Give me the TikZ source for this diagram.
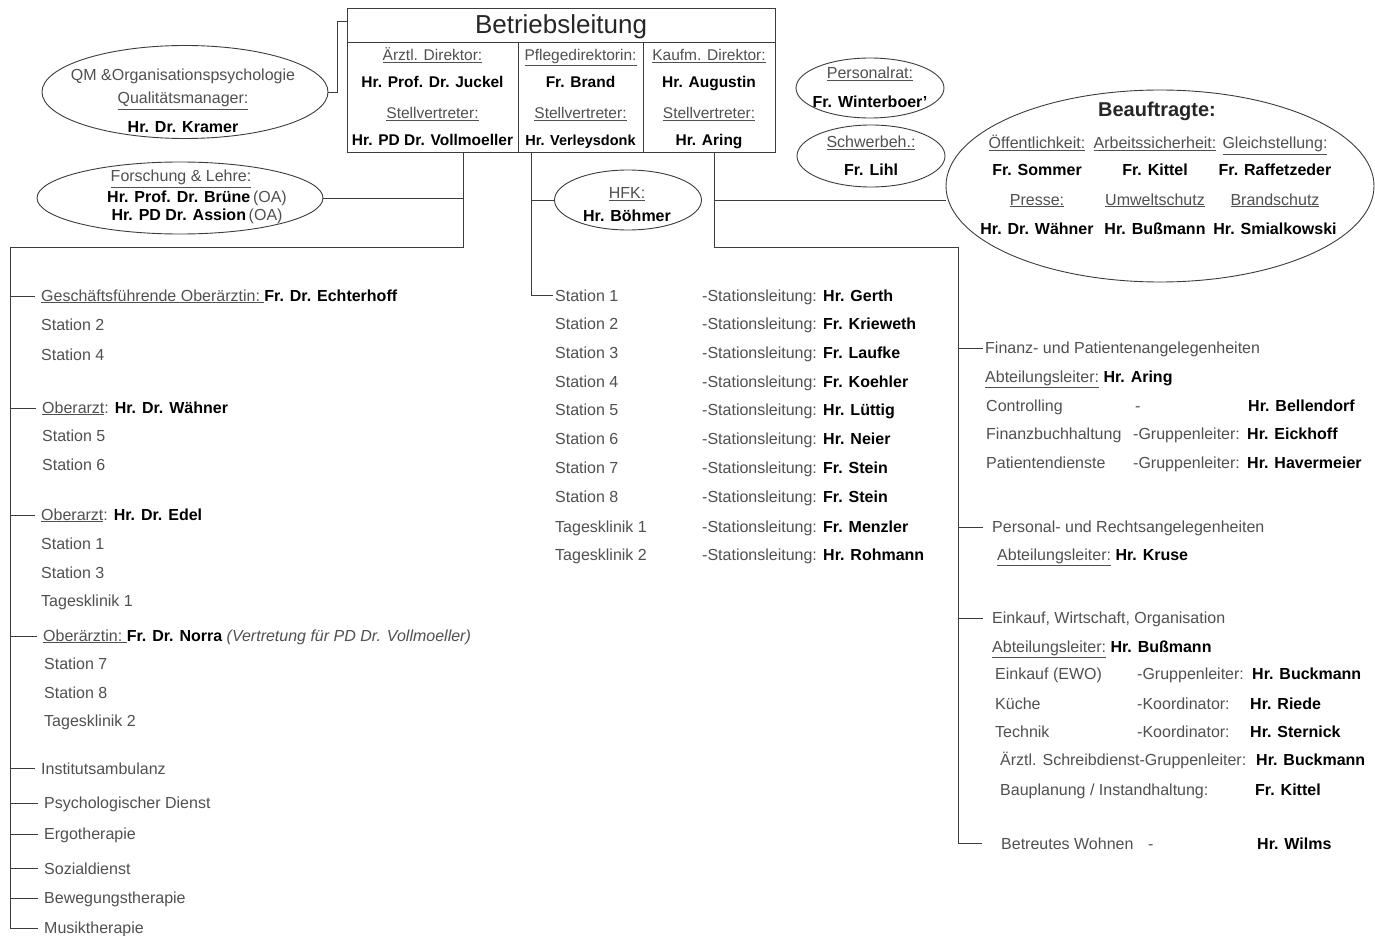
\documentclass[tikz,border=0pt]{standalone}
\usepackage{fontspec}
\setmainfont{Liberation Sans}
\usetikzlibrary{shapes.geometric}
\definecolor{txt}{RGB}{80,80,80}
\definecolor{lnc}{RGB}{60,60,60}
\newcommand{\nm}[1]{{\bfseries\color{black}#1}}
\newcommand{\lbl}[1]{\underline{#1}}
\begin{document}
\begin{tikzpicture}[x=1pt,y=-1pt,
  ln/.style={draw=lnc, line width=0.9pt},
  el/.style={ellipse, draw=lnc, line width=0.9pt, inner sep=0pt},
  tl/.style={anchor=base west, inner sep=0pt, text=txt, font=\fontsize{16}{19}\selectfont},
  tc/.style={anchor=base, inner sep=0pt, text=txt, font=\fontsize{16}{19}\selectfont},
  tb/.style={anchor=base, inner sep=0pt, text=txt, font=\fontsize{15.5}{18}\selectfont},
]
\fill[white] (0,0) rectangle (1375,936);
\useasboundingbox (0,0) rectangle (1375,936);

% ---------- Betriebsleitung box ----------
\node[draw=lnc, line width=0.9pt, minimum width=428pt, minimum height=144pt, inner sep=0pt] (bl) at (561,80) {};
\draw[ln] (347,42) -- (775,42);
\draw[ln] (518,42) -- (518,152);
\draw[ln] (643,42) -- (643,152);
\node[anchor=base, inner sep=0pt, text=black!85, font=\fontsize{26}{30}\selectfont] (title) at (561,34) {Betriebsleitung};
\node[tb] (d1a) at (432.5,61) {\lbl{Ärztl. Direktor:}};
\node[tb] (d1b) at (432.5,88) {\nm{Hr. Prof. Dr. Juckel}};
\node[tb] (d1c) at (432.5,119) {\lbl{Stellvertreter:}};
\node[tb] (d1d) at (432.5,146) {\nm{Hr. PD Dr. Vollmoeller}};
\node[tb] (d2a) at (580.5,61) {\lbl{Pflegedirektorin:}};
\node[tb] (d2b) at (580.5,88) {\nm{Fr. Brand}};
\node[tb] (d2c) at (580.5,119) {\lbl{Stellvertreter:}};
\node[tb, font=\fontsize{14.5}{17}\selectfont] (d2d) at (580.5,146) {\nm{Hr. Verleysdonk}};
\node[tb] (d3a) at (709,61) {\lbl{Kaufm. Direktor:}};
\node[tb] (d3b) at (709,88) {\nm{Hr. Augustin}};
\node[tb] (d3c) at (709,119) {\lbl{Stellvertreter:}};
\node[tb] (d3d) at (709,146) {\nm{Hr. Aring}};

% ---------- ellipses left ----------
\node[el, minimum width=286pt, minimum height=93pt] (qm) at (185,92) {};
\node[tc] (qm1) at (183,81) {QM \&Organisationspsychologie};
\node[tc] (qm2) at (183,104) {\lbl{Qualitätsmanager:}};
\node[tc] (qm3) at (183,133) {\nm{Hr. Dr. Kramer}};

\node[el, minimum width=286pt, minimum height=72pt] (fo) at (180,198) {};
\node[tc] (fo1) at (181,182) {\lbl{Forschung \& Lehre:}};
\node[tc] (fo2) at (197,202) {\nm{Hr. Prof. Dr. Brüne}\,(OA)};
\node[tc] (fo3) at (197,220) {\nm{Hr. PD Dr. Assion}\,(OA)};

% ---------- HFK ----------
\node[el, minimum width=147pt, minimum height=60pt] (hfk) at (628,200) {};
\node[tc] (hfk1) at (627,199) {\lbl{HFK:}};
\node[tc] (hfk2) at (627,221) {\nm{Hr. Böhmer}};

% ---------- Personalrat / Schwerbeh ----------
\node[el, minimum width=148pt, minimum height=60pt] (pr) at (870,88) {};
\node[tc] (pr1) at (870,79) {\lbl{Personalrat:}};
\node[tc] (pr2) at (870,108) {\nm{Fr. Winterboer'}};
\node[el, minimum width=148pt, minimum height=62pt] (sb) at (871,156) {};
\node[tc] (sb1) at (871,148) {\lbl{Schwerbeh.:}};
\node[tc] (sb2) at (871,176) {\nm{Fr. Lihl}};

% ---------- Beauftragte ----------
\node[el, minimum width=428pt, minimum height=192pt] (bea) at (1160,186) {};
\node[anchor=base, inner sep=0pt, font=\fontsize{20}{24}\selectfont\bfseries, text=black!85] (beat) at (1157,117) {Beauftragte:};
\node[tc] (b1a) at (1037,149) {\lbl{Öffentlichkeit:}};
\node[tc] (b2a) at (1155,149) {\lbl{Arbeitssicherheit:}};
\node[tc] (b3a) at (1275,149) {\lbl{Gleichstellung:}};
\node[tc] (b1b) at (1037,176) {\nm{Fr. Sommer}};
\node[tc] (b2b) at (1155,176) {\nm{Fr. Kittel}};
\node[tc] (b3b) at (1275,176) {\nm{Fr. Raffetzeder}};
\node[tc] (b1c) at (1037,205) {\lbl{Presse:}};
\node[tc] (b2c) at (1155,205) {\lbl{Umweltschutz}};
\node[tc] (b3c) at (1275,205) {\lbl{Brandschutz}};
\node[tc] (b1d) at (1037,234) {\nm{Hr. Dr. Wähner}};
\node[tc] (b2d) at (1155,234) {\nm{Hr. Bußmann}};
\node[tc] (b3d) at (1275,234) {\nm{Hr. Smialkowski}};

% ---------- left column ----------
\node[tl] (g1) at (41,301) {\lbl{Geschäftsführende Oberärztin:\ }\nm{Fr. Dr. Echterhoff}};
\node[tl] (g1a) at (41,330) {Station 2};
\node[tl] (g1b) at (41,360) {Station 4};
\node[tl] (g2) at (42,413) {\lbl{Oberarzt}: \nm{Hr. Dr. Wähner}};
\node[tl] (g2a) at (42,441) {Station 5};
\node[tl] (g2b) at (42,470) {Station 6};
\node[tl] (g3) at (41,520) {\lbl{Oberarzt}: \nm{Hr. Dr. Edel}};
\node[tl] (g3a) at (41,549) {Station 1};
\node[tl] (g3b) at (41,578) {Station 3};
\node[tl] (g3c) at (41,606) {Tagesklinik 1};
\node[tl] (g4) at (43,641) {\lbl{Oberärztin:\ }\nm{Fr. Dr. Norra} {\itshape (Vertretung für PD Dr. Vollmoeller)}};
\node[tl] (g4a) at (44,669) {Station 7};
\node[tl] (g4b) at (44,698) {Station 8};
\node[tl] (g4c) at (44,726) {Tagesklinik 2};
\node[tl] (g5) at (41,774) {Institutsambulanz};
\node[tl] (g6) at (44,808) {Psychologischer Dienst};
\node[tl] (g7) at (44,839) {Ergotherapie};
\node[tl] (g8) at (44,874) {Sozialdienst};
\node[tl] (g9) at (44,903) {Bewegungstherapie};
\node[tl] (g10) at (44,933) {Musiktherapie};

% ---------- middle column ----------
\foreach \i/\y/\s/\n in {1/301/Station 1/Hr. Gerth, 2/329/Station 2/Fr. Krieweth, 3/358/Station 3/Fr. Laufke,
  4/387/Station 4/Fr. Koehler, 5/415/Station 5/Hr. Lüttig, 6/444/Station 6/Hr. Neier,
  7/473/Station 7/Fr. Stein, 8/502/Station 8/Fr. Stein, 9/532/Tagesklinik 1/Fr. Menzler,
  10/560/Tagesklinik 2/Hr. Rohmann}{
  \node[tl] (s\i) at (555,\y) {\s};
  \node[tl] (sl\i) at (702,\y) {-Stationsleitung:};
  \node[tl] (sn\i) at (823,\y) {\nm{\n}};
}

% ---------- right column ----------
\node[tl] (f1) at (985,353) {Finanz- und Patientenangelegenheiten};
\node[tl] (f1a) at (985,382) {\lbl{Abteilungsleiter:} \nm{Hr. Aring}};
\node[tl] (f1b) at (986,411) {Controlling};
\node[tl] (f1b2) at (1135,411) {-};
\node[tl] (f1b3) at (1248,411) {\nm{Hr. Bellendorf}};
\node[tl] (f1c) at (986,439) {Finanzbuchhaltung};
\node[tl] (f1c2) at (1133,439) {-Gruppenleiter:};
\node[tl] (f1c3) at (1247,439) {\nm{Hr. Eickhoff}};
\node[tl] (f1d) at (986,468) {Patientendienste};
\node[tl] (f1d2) at (1133,468) {-Gruppenleiter:};
\node[tl] (f1d3) at (1247,468) {\nm{Hr. Havermeier}};

\node[tl] (f2) at (992,532) {Personal- und Rechtsangelegenheiten};
\node[tl] (f2a) at (997,560) {\lbl{Abteilungsleiter:} \nm{Hr. Kruse}};

\node[tl] (f3) at (992,623) {Einkauf, Wirtschaft, Organisation};
\node[tl] (f3a) at (992,652) {\lbl{Abteilungsleiter:} \nm{Hr. Bußmann}};
\node[tl] (f3b) at (995,679) {Einkauf (EWO)};
\node[tl] (f3b2) at (1137,679) {-Gruppenleiter:};
\node[tl] (f3b3) at (1252,679) {\nm{Hr. Buckmann}};
\node[tl] (f3c) at (995,709) {Küche};
\node[tl] (f3c2) at (1137,709) {-Koordinator:};
\node[tl] (f3c3) at (1250,709) {\nm{Hr. Riede}};
\node[tl] (f3d) at (995,737) {Technik};
\node[tl] (f3d2) at (1137,737) {-Koordinator:};
\node[tl] (f3d3) at (1250,737) {\nm{Hr. Sternick}};
\node[tl] (f3e) at (1000,765) {Ärztl. Schreibdienst-Gruppenleiter:};
\node[tl] (f3e3) at (1256,765) {\nm{Hr. Buckmann}};
\node[tl] (f3f) at (1000,795) {Bauplanung / Instandhaltung:};
\node[tl] (f3f3) at (1255,795) {\nm{Fr. Kittel}};

\node[tl] (f4) at (1001,849) {Betreutes Wohnen};
\node[tl] (f4b) at (1148,849) {-};
\node[tl] (f4c) at (1257,849) {\nm{Hr. Wilms}};

% ---------- connectors ----------
\coordinate (q0) at (337,21);
\draw[ln] (bl.west |- q0) -- (q0) |- (qm.east);

\coordinate (a1) at (463,152);
\coordinate (a3) at (10,247);
\draw[ln] (fo.east) -- (fo.east -| a1);
\draw[ln] (a1) |- (a3) |- ([xshift=-6pt]g10.west);
\foreach \g in {g1,g2,g3,g4,g5,g6,g7,g8,g9}{
  \draw[ln] (\g.west -| a3) -- ([xshift=-6pt]\g.west);
}

\coordinate (m1) at (531,152);
\draw[ln] (m1) |- ([xshift=-2pt]s1.west);
\draw[ln] (m1 |- hfk.west) -- (hfk.west);

\coordinate (r1) at (714,152);
\coordinate (r2) at (958,247);
\coordinate (r3) at (714,200);
\draw[ln] (r3) -- (r3 -| bea.west);
\draw[ln] (r1) |- (r2) |- ([xshift=-19pt]f4.west);
\draw[ln] (f1.west -| r2) -- ([xshift=-2pt]f1.west);
\draw[ln] (f2.west -| r2) -- ([xshift=-9pt]f2.west);
\draw[ln] (f3.west -| r2) -- ([xshift=-9pt]f3.west);
\end{tikzpicture}
\end{document}
